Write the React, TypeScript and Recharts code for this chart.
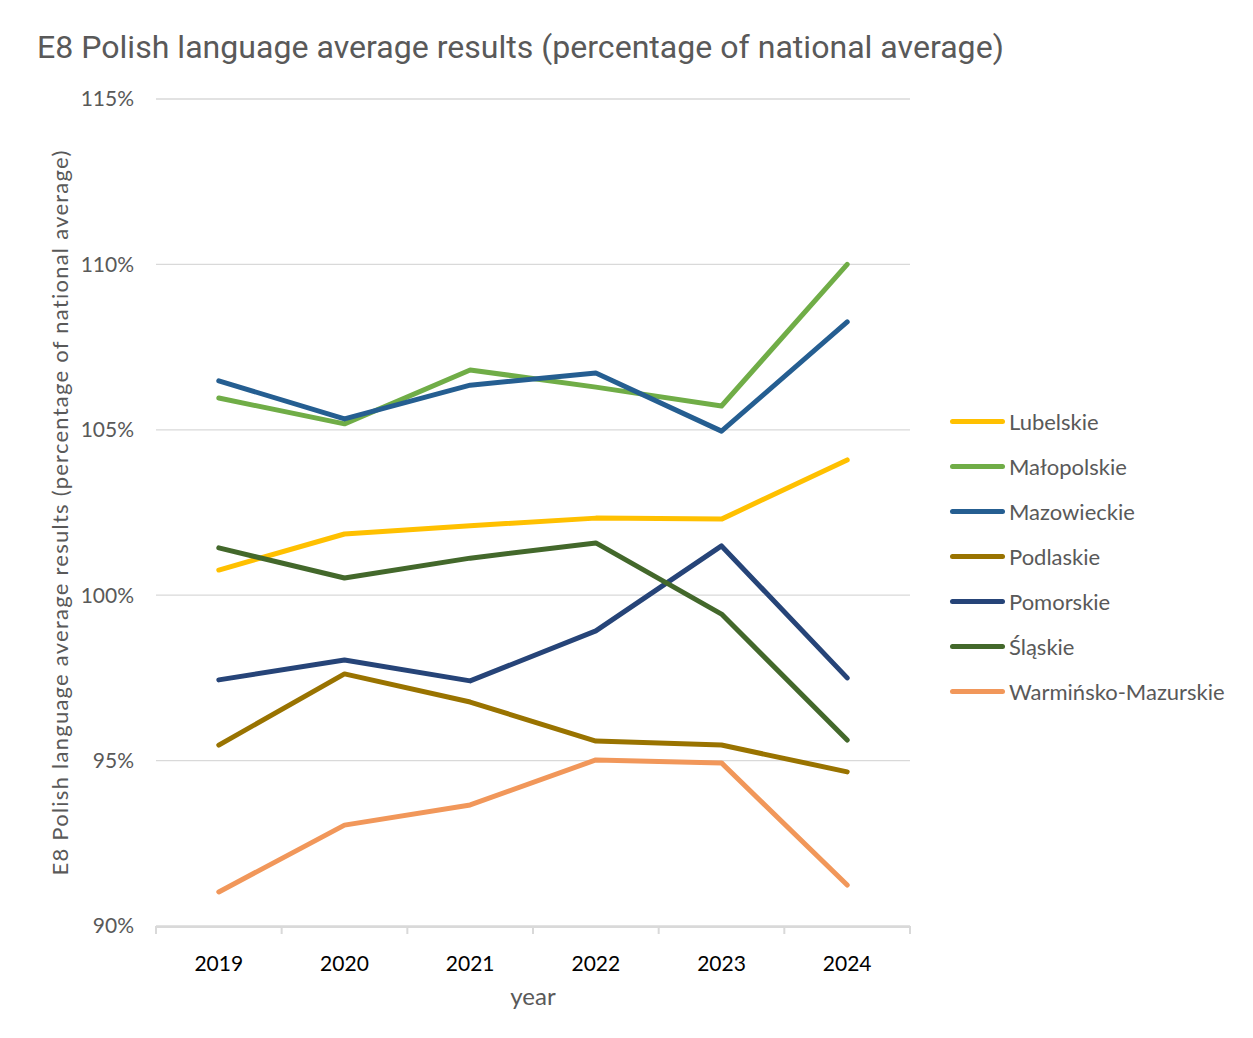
import React from "react";
import { LineChart, Line, XAxis, YAxis, CartesianGrid } from "recharts";

const years = ["2019", "2020", "2021", "2022", "2023", "2024"];
const lubelskie = [100.76, 101.85, 102.1, 102.33, 102.3, 104.09];
const malopolskie = [105.96, 105.18, 106.81, 106.29, 105.72, 110.0];
const mazowieckie = [106.48, 105.33, 106.35, 106.72, 104.96, 108.26];
const podlaskie = [95.47, 97.62, 96.77, 95.59, 95.47, 94.66];
const pomorskie = [97.44, 98.04, 97.41, 98.92, 101.49, 97.5];
const slaskie = [101.43, 100.52, 101.12, 101.58, 99.43, 95.62];
const warminsko = [91.03, 93.05, 93.66, 95.02, 94.93, 91.24];
const yTicks = [90, 95, 100, 105, 110, 115];
const boundaryTicks = [0, 1, 2, 3, 4, 5, 6];

const series = [
  { key: "Lubelskie", values: lubelskie, color: "#FFC000" },
  { key: "Małopolskie", values: malopolskie, color: "#70AD47" },
  { key: "Mazowieckie", values: mazowieckie, color: "#255E91" },
  { key: "Podlaskie", values: podlaskie, color: "#997300" },
  { key: "Pomorskie", values: pomorskie, color: "#264478" },
  { key: "Śląskie", values: slaskie, color: "#43682B" },
  { key: "Warmińsko-Mazurskie", values: warminsko, color: "#F1975A" },
];

const data = years.map((y, i) => {
  const row: Record<string, number | string> = { year: y, pos: i + 0.5 };
  series.forEach((s) => {
    row[s.key] = s.values[i];
  });
  return row;
});

const FONT = "Lato, 'Open Sans', sans-serif";

const BoundaryTick = (props: any) => {
  const { x, y } = props;
  return <line x1={x} x2={x} y1={y} y2={y + 8} stroke="#D9D9D9" strokeWidth={2} />;
};

export default function App() {
  return (
    <div style={{ position: "relative", width: 1253, height: 1038, margin: -8, background: "#F3F2EE", overflow: "hidden" }}>
      <div style={{ position: "absolute", left: 7, top: 7, width: 1250, height: 1040, background: "#fff", border: "1px solid #DCDCDC", boxSizing: "border-box" }} />
      <div style={{ position: "absolute", left: 37, top: 27, fontFamily: "Roboto, sans-serif", fontSize: 32.1, lineHeight: "40px", color: "#595959", whiteSpace: "nowrap" }}>
        E8 Polish language average results (percentage of national average)
      </div>
      <div style={{ position: "absolute", left: 0, top: 0 }}>
        <LineChart width={1253} height={1038} data={data} margin={{ top: 99, right: 343, bottom: 51, left: 36 }}>
          <CartesianGrid vertical={false} stroke="#D9D9D9" strokeWidth={1.3} />
          <XAxis
            xAxisId="cat"
            dataKey="year"
            type="category"
            height={60}
            padding={{ left: 62.8, right: 62.8 }}
            axisLine={{ stroke: "#D9D9D9", strokeWidth: 2 }}
            tickLine={false}
            tickSize={6}
            tickMargin={23}
            tick={{ fill: "#000", fontSize: 21, fontFamily: FONT }}
            label={{ value: "year", position: "insideBottom", offset: -18, fill: "#595959", fontSize: 24, fontFamily: FONT }}
          />
          <XAxis
            xAxisId="b"
            dataKey="pos"
            type="number"
            domain={[0, 6]}
            ticks={boundaryTicks}
            height={1}
            axisLine={false}
            tickLine={false}
            tickSize={0}
            tickMargin={0}
            interval={0}
            tick={<BoundaryTick />}
          />
          <YAxis
            domain={[90, 115]}
            ticks={yTicks}
            width={120}
            axisLine={false}
            tickLine={false}
            tickSize={6}
            tickMargin={16}
            tickFormatter={(v: number) => `${v}%`}
            tick={{ fill: "#595959", fontSize: 21, fontFamily: FONT }}
            label={{
              value: "E8 Polish language average results (percentage of national average)",
              angle: -90,
              position: "insideLeft",
              offset: 24,
              style: { textAnchor: "middle", letterSpacing: "1.25px" },
              fill: "#595959",
              fontSize: 22,
              fontFamily: FONT,
            }}
          />
          {series.map((s) => (
            <Line
              key={s.key}
              xAxisId="cat"
              dataKey={s.key}
              stroke={s.color}
              strokeWidth={5}
              dot={false}
              activeDot={false}
              isAnimationActive={false}
              strokeLinecap="round"
              strokeLinejoin="round"
            />
          ))}
        </LineChart>
      </div>
      <div style={{ position: "absolute", left: 950, top: 399, fontFamily: FONT, fontSize: 22, color: "#595959" }}>
        {series.map((s) => (
          <div key={s.key} style={{ display: "flex", alignItems: "center", height: 45, whiteSpace: "nowrap" }}>
            <div style={{ width: 55, height: 5, borderRadius: 3, background: s.color, marginRight: 4 }} />
            <span>{s.key}</span>
          </div>
        ))}
      </div>
    </div>
  );
}
